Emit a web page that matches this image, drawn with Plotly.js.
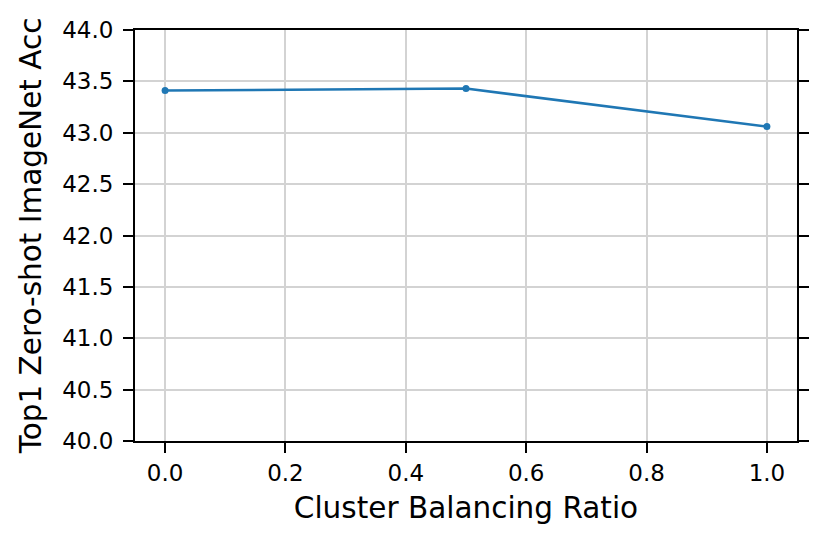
<!DOCTYPE html>
<html><head><meta charset="utf-8">
<script src="https://cdn.plot.ly/plotly-3.0.1.min.js"></script>
<style>body{margin:0;padding:0;background:#fff}#chart{width:829px;height:547px}</style>
</head><body><div id="chart"></div>
<script>
const ratios = [0.0, 0.5, 1.0];
const accuracy = [43.41, 43.43, 43.06];
const xTicks = [0.0, 0.2, 0.4, 0.6, 0.8, 1.0];
const xTickLabels = ["0.0", "0.2", "0.4", "0.6", "0.8", "1.0"];
const yTicks = [40.0, 40.5, 41.0, 41.5, 42.0, 42.5, 43.0, 43.5, 44.0];
const yTickLabels = ["40.0", "40.5", "41.0", "41.5", "42.0", "42.5", "43.0", "43.5", "44.0"];

const trace = {
  x: ratios, y: accuracy, type: 'scatter', mode: 'lines+markers',
  line: {color: '#1f77b4', width: 2.5},
  marker: {color: '#1f77b4', size: 7},
  showlegend: false, cliponaxis: false
};
const font = {family: 'DejaVu Sans', color: '#000'};
const layout = {
  width: 829, height: 547,
  margin: {l: 135, r: 32, t: 30, b: 106},
  paper_bgcolor: '#fff', plot_bgcolor: '#fff',
  font: font,
  xaxis: {
    range: [-0.05, 1.05], tickvals: xTicks, ticktext: xTickLabels,
    showgrid: true, gridcolor: '#d3d3d3', gridwidth: 2,
    zeroline: false, showline: true, linecolor: '#000', linewidth: 2, mirror: true,
    ticks: 'outside', ticklen: 10, tickwidth: 2, tickcolor: '#000',
    ticklabelstandoff: 0,
    tickfont: {family: 'DejaVu Sans', size: 23, color: '#000'},
    title: {text: 'Cluster Balancing Ratio', font: {family: 'DejaVu Sans', size: 29.5, color: '#000'}, standoff: 13}
  },
  yaxis: {
    range: [40, 44], tickvals: yTicks, ticktext: yTickLabels,
    showgrid: true, gridcolor: '#d3d3d3', gridwidth: 2,
    zeroline: false, showline: true, linecolor: '#000', linewidth: 2, mirror: 'ticks',
    ticks: 'outside', ticklen: 10, tickwidth: 2, tickcolor: '#000',
    ticklabelstandoff: 5,
    tickfont: {family: 'DejaVu Sans', size: 23, color: '#000'},
    title: {text: 'Top1 Zero-shot ImageNet Acc', font: {family: 'DejaVu Sans', size: 29.5, color: '#000'}, standoff: 12}
  }
};
Plotly.newPlot('chart', [trace], layout, {displayModeBar: false, staticPlot: true});
</script></body></html>
